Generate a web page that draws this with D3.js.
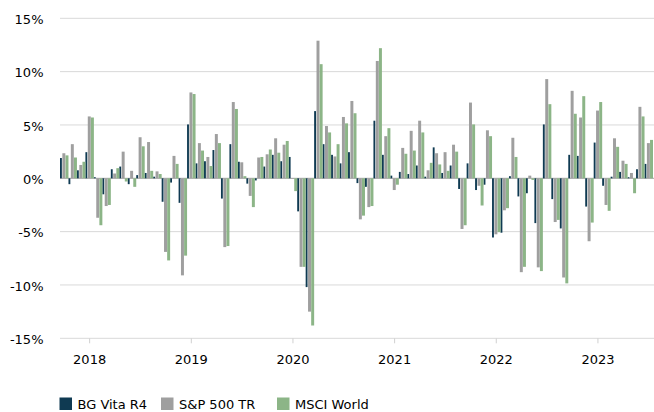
<!DOCTYPE html>
<html>
<head>
<meta charset="utf-8">
<script src="https://cdn.jsdelivr.net/npm/d3@7"></script>
<style>
  body { margin: 0; background: #fff; }
  svg { display: block; font-family: "DejaVu Sans", Verdana, sans-serif; }
</style>
</head>
<body>
<svg id="chart" width="654" height="412"></svg>
<script>
// monthly returns in %, Oct 2017 .. Jul 2023
const seriesNames = ['BG Vita R4', 'S&P 500 TR', 'MSCI World'];

const bgVita = [
  1.9, -0.55, 0.75,
  2.45, 0.1, -1.5, 0.85, 1.1, -0.55, 0.3, 0.5, 0.15, -2.2, -0.4, -2.3,
  5.05, 1.4, 1.6, 2.65, -1.9, 3.2, 1.55, -0.5, -0.2, 1.1, 2.2, 1.6,
  2.0, -3.1, -10.2, 6.3, 3.2, 2.2, 1.4, 2.45, -0.45, -0.8, 5.4, 2.2,
  0.25, 0.6, 0.4, 1.2, 0.15, 2.9, 0.5, 1.2, -1.0, 1.4, -1.1, -0.6,
  -5.55, -5.1, 0.2, -1.7, -1.4, -4.2, 5.05, -1.95, -4.7, 2.2, 2.1, -2.65,
  3.35, -0.7, 0.15, 0.6, 0.1, 0.85, 1.35
];

const sp500 = [
  2.35, 3.2, 1.25,
  5.8, -3.7, -2.6, 0.45, 2.5, 0.7, 3.85, 3.4, 0.65, -6.9, 2.1, -9.1,
  8.05, 3.3, 2.0, 4.15, -6.45, 7.15, 1.5, -1.65, 1.95, 2.25, 3.75, 3.15,
  -0.05, -8.3, -12.5, 12.9, 4.9, 2.05, 5.75, 7.25, -3.85, -2.7, 11.0, 3.95,
  -1.1, 2.85, 4.45, 5.4, 0.75, 2.35, 2.45, 3.15, -4.75, 7.1, -0.7, 4.5,
  -5.25, -3.0, 3.8, -8.8, 0.25, -8.35, 9.3, -4.1, -9.3, 8.2, 5.7, -5.9,
  6.35, -2.5, 3.75, 1.65, 0.5, 6.7, 3.3
];

const msciWorld = [
  2.15, 1.95, 1.55,
  5.7, -4.4, -2.5, 0.95, -0.3, -0.8, 3.0, 0.7, 0.4, -7.7, 1.35, -7.25,
  7.9, 2.6, 1.15, 3.3, -6.35, 6.5, 0.2, -2.7, 2.0, 2.7, 2.4, 3.5,
  -1.2, -8.3, -13.8, 10.7, 4.3, 3.2, 5.15, 6.1, -3.5, -2.6, 12.2, 4.7,
  -0.6, 2.3, 2.6, 4.3, 1.45, 1.3, 0.7, 2.5, -4.4, 5.05, -2.55, 3.95,
  -5.05, -2.8, 2.0, -8.3, -0.15, -8.7, 6.95, -3.9, -9.85, 6.05, 7.7, -4.15,
  7.15, -3.05, 2.95, 1.35, -1.4, 5.8, 3.6
];

const yTicks = [-15, -10, -5, 0, 5, 10, 15];

const months = d3.utcMonth.range(new Date(Date.UTC(2017, 9, 1)), new Date(Date.UTC(2023, 7, 1)));

const colors = ['#0f3a52', '#9f9f9f', '#8cb587'];
// position of each bar inside a month slot (fraction of slot), navy is narrow
const barSlots = [
  { off: 0.0, w: 0.22 },
  { off: 0.28, w: 0.35 },
  { off: 0.65, w: 0.35 }
];

const svg = d3.select('#chart');
const plotLeft = 60, plotRight = 653, plotTop = 18.3, plotBottom = 338.3;

const x = d3.scaleBand()
  .domain(months.map((d) => d.getTime()))
  .range([plotLeft, plotRight])
  .paddingInner(0)
  .paddingOuter(0);

const y = d3.scaleLinear()
  .domain([-15, 15])
  .range([plotBottom, plotTop]);

// grid
svg.append('g')
  .selectAll('line')
  .data(yTicks)
  .enter().append('line')
  .attr('x1', plotLeft)
  .attr('x2', 654)
  .attr('y1', (d) => y(d))
  .attr('y2', (d) => y(d))
  .attr('stroke', (d) => (d === 0 ? '#a6a6a6' : '#d9d9d9'))
  .attr('stroke-width', 1);

// y labels
const yAxis = d3.axisLeft(y)
  .tickValues(yTicks)
  .tickSize(0)
  .tickPadding(16.5)
  .tickFormat((d) => String(d) + '%');

svg.append('g')
  .attr('transform', `translate(${plotLeft},1)`)
  .call(yAxis)
  .call((g) => g.select('.domain').remove())
  .selectAll('text')
  .attr('font-size', 13)
  .attr('font-family', '"DejaVu Sans", Verdana, sans-serif')
  .attr('fill', '#000');

// x axis: year ticks at January
const janMonths = months.filter((d) => d.getUTCMonth() === 0).map((d) => d.getTime());
const xAxis = d3.axisBottom(x)
  .tickValues(janMonths)
  .tickSize(5)
  .tickPadding(11)
  .tickFormat((d) => new Date(d).getUTCFullYear());

svg.append('g')
  .attr('transform', `translate(0,${plotBottom})`)
  .call(xAxis)
  .call((g) => g.select('.domain').remove())
  .call((g) => g.selectAll('.tick line').attr('stroke', '#d0d0d0'))
  .selectAll('text')
  .attr('font-size', 13)
  .attr('font-family', '"DejaVu Sans", Verdana, sans-serif')
  .attr('fill', '#000');

// bars
const allSeries = [bgVita, sp500, msciWorld];
const bw = x.bandwidth();

allSeries.forEach((values, si) => {
  svg.append('g')
    .selectAll('rect')
    .data(values)
    .enter().append('rect')
    .attr('x', (d, i) => x(months[i].getTime()) + barSlots[si].off * bw)
    .attr('width', barSlots[si].w * bw)
    .attr('y', (d) => y(Math.max(0, d)))
    .attr('height', (d) => Math.abs(y(d) - y(0)))
    .attr('fill', colors[si]);
});

// legend
const legendX = [59.5, 161, 277];
const legend = svg.append('g');
seriesNames.forEach((name, i) => {
  legend.append('rect')
    .attr('x', legendX[i])
    .attr('y', 397.5)
    .attr('width', 12.5)
    .attr('height', 12.5)
    .attr('fill', colors[i]);
  legend.append('text')
    .attr('x', legendX[i] + 18)
    .attr('y', 408.5)
    .attr('font-size', 13)
    .attr('fill', '#000')
    .text(name);
});
</script>
</body>
</html>
